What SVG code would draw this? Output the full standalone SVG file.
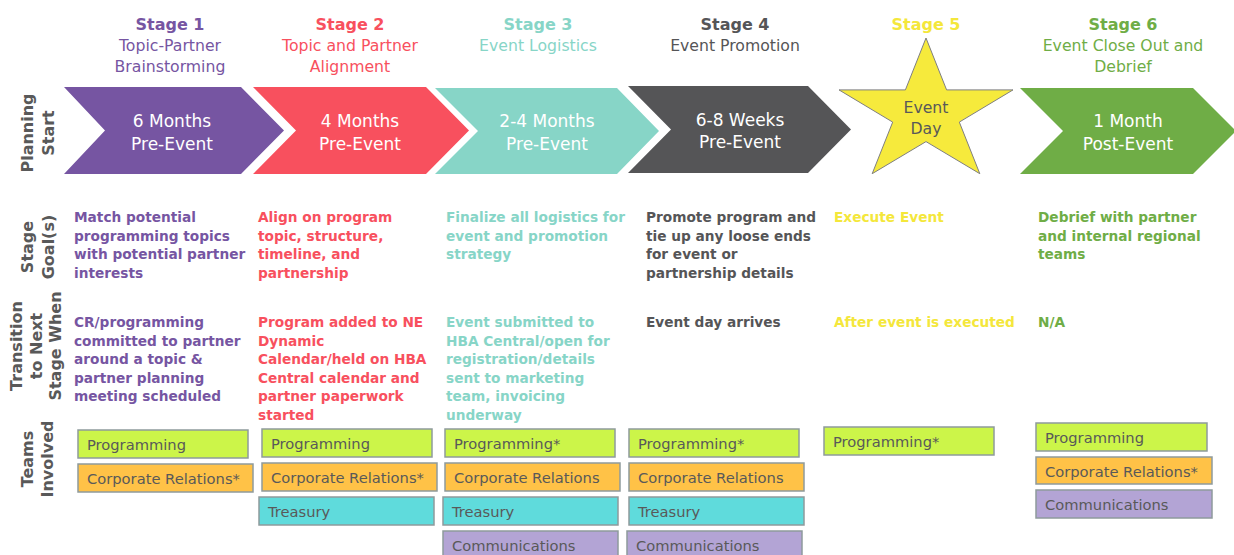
<svg xmlns="http://www.w3.org/2000/svg" width="1234" height="555" viewBox="0 0 1234 555">
<style>
  text { font-family: "DejaVu Sans", Verdana, sans-serif; }
  .hd { font-size: 16px; font-weight: bold; text-anchor: middle; }
  .sub { font-size: 15.7px; text-anchor: middle; }
  .chv { font-size: 17px; fill: #ffffff; text-anchor: middle; }
  .side { font-size: 16px; font-weight: bold; fill: #595959; text-anchor: middle; }
  .body { font-size: 13.7px; font-weight: bold; }
  .team { font-size: 14.7px; fill: #595959; }
  .box { stroke: #8E9A9C; stroke-width: 1.5; }
  .prog { fill: #CCF549; }
  .corp { fill: #FFC247; }
  .trea { fill: #5FDBDC; }
  .comm { fill: #B3A4D5; }
  .c1 { fill: #7655A2; }
  .c2 { fill: #F8505E; }
  .c3 { fill: #87D5C7; }
  .c4 { fill: #555557; }
  .c5 { fill: #F4E73B; }
  .c6 { fill: #6FAD46; }
</style>

<g id="side-labels">
  <text class="side" transform="translate(33,133) rotate(-90)">Planning</text>
  <text class="side" transform="translate(54,133) rotate(-90)">Start</text>
  <text class="side" transform="translate(33,247) rotate(-90)">Stage</text>
  <text class="side" transform="translate(54,247) rotate(-90)">Goal(s)</text>
  <text class="side" transform="translate(22,346) rotate(-90)">Transition</text>
  <text class="side" transform="translate(42,346) rotate(-90)">to Next</text>
  <text class="side" transform="translate(61,346) rotate(-90)">Stage When</text>
  <text class="side" transform="translate(33,459) rotate(-90)">Teams</text>
  <text class="side" transform="translate(53,459) rotate(-90)">Involved</text>
</g>

<g id="stage1">
  <text class="hd c1" x="170" y="30">Stage 1</text>
  <text class="sub c1" x="170" y="51">Topic-Partner</text>
  <text class="sub c1" x="170" y="72">Brainstorming</text>
  <polygon class="c1" points="64,87 241,87 284,130.5 241,174 64,174 105,130.5"/>
  <text class="chv" x="172" y="127">6 Months</text>
  <text class="chv" x="172" y="150">Pre-Event</text>
  <text class="body c1" x="74"><tspan x="74" y="222">Match potential</tspan><tspan x="74" y="240.5">programming topics</tspan><tspan x="74" y="259">with potential partner</tspan><tspan x="74" y="277.5">interests</tspan></text>
  <text class="body c1" x="74"><tspan x="74" y="327">CR/programming</tspan><tspan x="74" y="345.5">committed to partner</tspan><tspan x="74" y="364">around a topic &amp;</tspan><tspan x="74" y="382.5">partner planning</tspan><tspan x="74" y="401">meeting scheduled</tspan></text>
  <rect class="box prog" x="78" y="430" width="170" height="28"/>
  <text class="team" x="87" y="450">Programming</text>
  <rect class="box corp" x="78" y="464" width="175" height="28"/>
  <text class="team" x="87" y="484">Corporate Relations*</text>
</g>

<g id="stage2">
  <text class="hd c2" x="350" y="30">Stage 2</text>
  <text class="sub c2" x="350" y="51">Topic and Partner</text>
  <text class="sub c2" x="350" y="72">Alignment</text>
  <polygon class="c2" points="253,87 426,87 469,130.5 426,174 253,174 296,130.5"/>
  <text class="chv" x="360" y="127">4 Months</text>
  <text class="chv" x="360" y="150">Pre-Event</text>
  <text class="body c2"><tspan x="258" y="222">Align on program</tspan><tspan x="258" y="240.5">topic, structure,</tspan><tspan x="258" y="259">timeline, and</tspan><tspan x="258" y="277.5">partnership</tspan></text>
  <text class="body c2"><tspan x="258" y="327">Program added to NE</tspan><tspan x="258" y="345.5">Dynamic</tspan><tspan x="258" y="364">Calendar/held on HBA</tspan><tspan x="258" y="382.5">Central calendar and</tspan><tspan x="258" y="401">partner paperwork</tspan><tspan x="258" y="419.5">started</tspan></text>
  <rect class="box prog" x="262" y="429" width="170" height="28"/>
  <text class="team" x="271" y="449">Programming</text>
  <rect class="box corp" x="262" y="463" width="175" height="28"/>
  <text class="team" x="271" y="483">Corporate Relations*</text>
  <rect class="box trea" x="259" y="497" width="175" height="28"/>
  <text class="team" x="268" y="517">Treasury</text>
</g>

<g id="stage3">
  <text class="hd c3" x="538" y="30">Stage 3</text>
  <text class="sub c3" x="538" y="51">Event Logistics</text>
  <polygon class="c3" points="435,88 617,88 659,131 617,174 435,174 478,131"/>
  <text class="chv" x="547" y="127">2-4 Months</text>
  <text class="chv" x="547" y="150">Pre-Event</text>
  <text class="body c3"><tspan x="446" y="222">Finalize all logistics for</tspan><tspan x="446" y="240.5">event and promotion</tspan><tspan x="446" y="259">strategy</tspan></text>
  <text class="body c3"><tspan x="446" y="327">Event submitted to</tspan><tspan x="446" y="345.5">HBA Central/open for</tspan><tspan x="446" y="364">registration/details</tspan><tspan x="446" y="382.5">sent to marketing</tspan><tspan x="446" y="401">team, invoicing</tspan><tspan x="446" y="419.5">underway</tspan></text>
  <rect class="box prog" x="445" y="429" width="170" height="28"/>
  <text class="team" x="454" y="449">Programming*</text>
  <rect class="box corp" x="445" y="463" width="175" height="28"/>
  <text class="team" x="454" y="483">Corporate Relations</text>
  <rect class="box trea" x="443" y="497" width="175" height="28"/>
  <text class="team" x="452" y="517">Treasury</text>
  <rect class="box comm" x="443" y="531" width="175" height="28"/>
  <text class="team" x="452" y="551">Communications</text>
</g>

<g id="stage4">
  <text class="hd c4" x="735" y="30">Stage 4</text>
  <text class="sub c4" x="735" y="51">Event Promotion</text>
  <polygon class="c4" points="628,86 808,86 851,129.5 808,173 628,173 671,129.5"/>
  <text class="chv" x="740" y="126">6-8 Weeks</text>
  <text class="chv" x="740" y="148">Pre-Event</text>
  <text class="body c4"><tspan x="646" y="222">Promote program and</tspan><tspan x="646" y="240.5">tie up any loose ends</tspan><tspan x="646" y="259">for event or</tspan><tspan x="646" y="277.5">partnership details</tspan></text>
  <text class="body c4"><tspan x="646" y="327">Event day arrives</tspan></text>
  <rect class="box prog" x="629" y="429" width="170" height="28"/>
  <text class="team" x="638" y="449">Programming*</text>
  <rect class="box corp" x="629" y="463" width="175" height="28"/>
  <text class="team" x="638" y="483">Corporate Relations</text>
  <rect class="box trea" x="629" y="497" width="175" height="28"/>
  <text class="team" x="638" y="517">Treasury</text>
  <rect class="box comm" x="627" y="531" width="175" height="28"/>
  <text class="team" x="636" y="551">Communications</text>
</g>

<g id="stage5">
  <text class="hd c5" x="926" y="30">Stage 5</text>
  <polygon fill="#F6EA3C" stroke="#7F7F7F" stroke-width="1" points="926,38 946.6,89.9 1013,89.9 959.3,122.1 979.8,173.7 926,141.6 872.2,173.7 892.7,122.1 839,89.9 905.4,89.9"/>
  <text class="sub" fill="#595959" x="926" y="113">Event</text>
  <text class="sub" fill="#595959" x="926" y="134">Day</text>
  <text class="body c5"><tspan x="834" y="222">Execute Event</tspan></text>
  <text class="body c5"><tspan x="834" y="327">After event is executed</tspan></text>
  <rect class="box prog" x="824" y="427" width="170" height="28"/>
  <text class="team" x="833" y="447">Programming*</text>
</g>

<g id="stage6">
  <text class="hd c6" x="1123" y="30">Stage 6</text>
  <text class="sub c6" x="1123" y="51">Event Close Out and</text>
  <text class="sub c6" x="1123" y="72">Debrief</text>
  <polygon class="c6" points="1020,88 1193,88 1236,131 1193,174 1020,174 1063,131"/>
  <text class="chv" x="1128" y="127">1 Month</text>
  <text class="chv" x="1128" y="150">Post-Event</text>
  <text class="body c6"><tspan x="1038" y="222">Debrief with partner</tspan><tspan x="1038" y="240.5">and internal regional</tspan><tspan x="1038" y="259">teams</tspan></text>
  <text class="body c6"><tspan x="1038" y="327">N/A</tspan></text>
  <rect class="box prog" x="1036" y="423" width="171" height="28"/>
  <text class="team" x="1045" y="443">Programming</text>
  <rect class="box corp" x="1036" y="457" width="176" height="27"/>
  <text class="team" x="1045" y="476.5">Corporate Relations*</text>
  <rect class="box comm" x="1036" y="490" width="176" height="28"/>
  <text class="team" x="1045" y="510">Communications</text>
</g>

<g id="connectors"></g>
</svg>
